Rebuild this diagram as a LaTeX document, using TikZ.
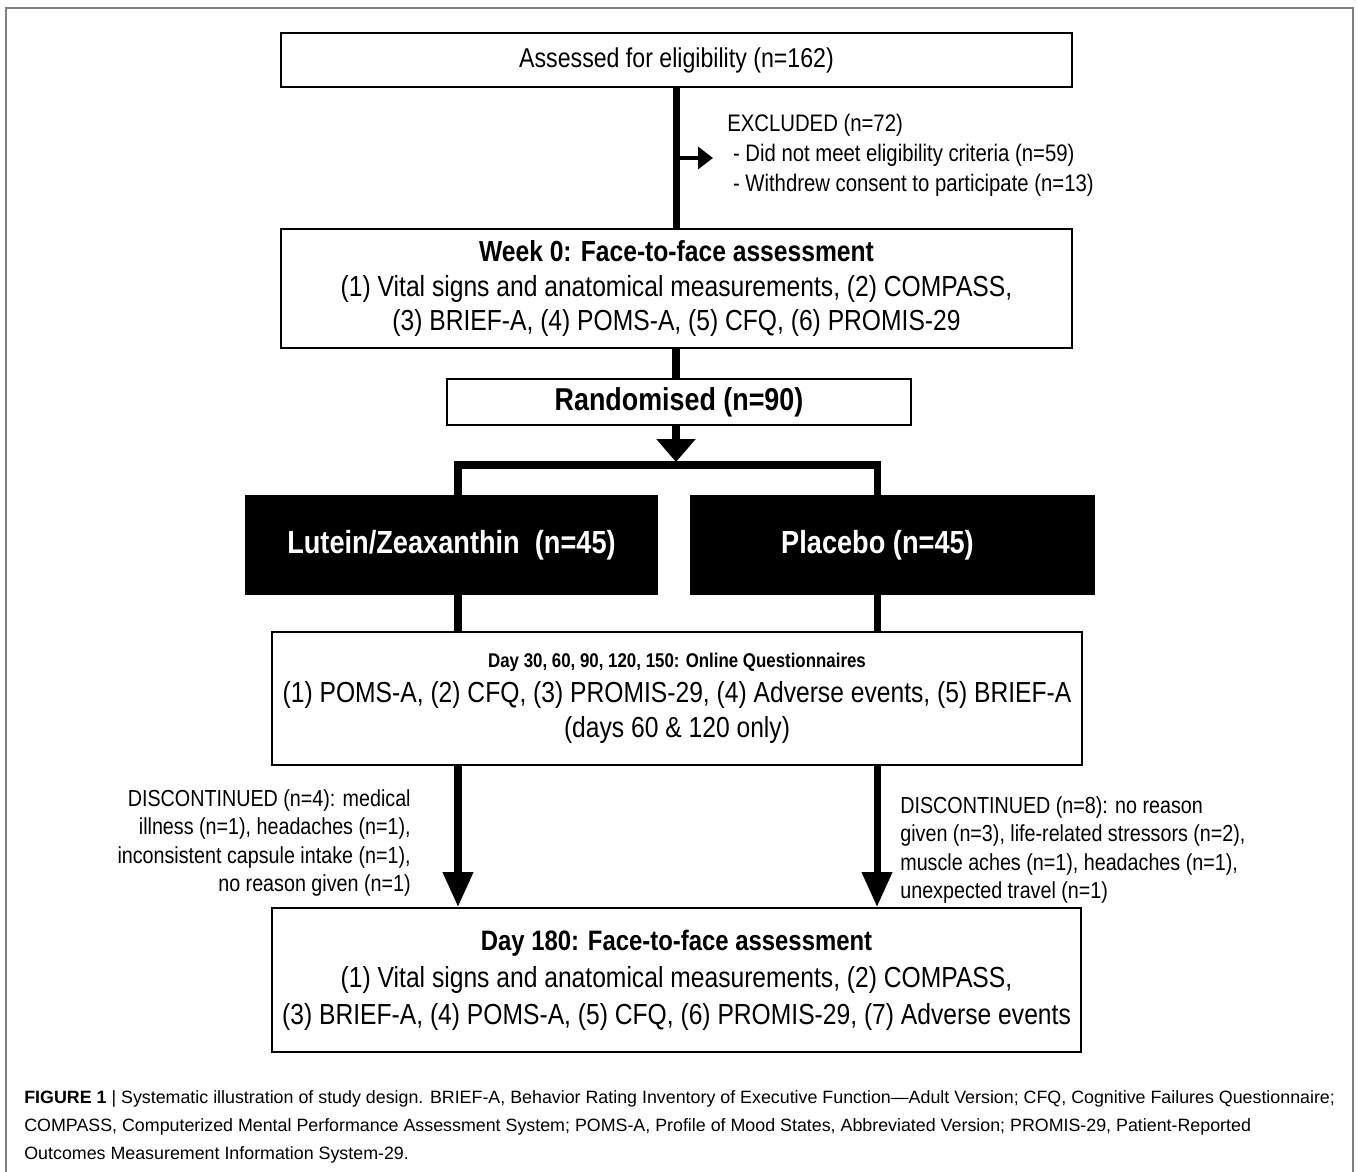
\documentclass[tikz,border=0pt]{standalone}
\usepackage{fontspec}
\setmainfont{Liberation Sans}
\newfontfamily\narrowfont{Liberation Sans}[FakeStretch=0.85]
\usetikzlibrary{arrows.meta,positioning,calc}

\begin{document}
\begin{tikzpicture}[x=0.02cm, y=-0.02cm,
		box/.style={draw=black, line width=1.1pt, fill=white, align=center, inner sep=0pt,
			font=\narrowfont\fontsize{16.5}{19.9}\selectfont},
		armbox/.style={fill=black, text=white, inner sep=0pt, minimum height=2cm,
			font=\narrowfont\bfseries\fontsize{18.2}{21}\selectfont},
		note/.style={inner sep=0pt, font=\narrowfont\fontsize{13.2}{16}\selectfont},
		trunk/.style={line width=4pt},
		bigtip/.style={-{Triangle[length=0.7cm,width=0.58cm]}},
		splittip/.style={-{Triangle[length=0.46cm,width=0.76cm]}}]
		
		% page and outer frame
		\useasboundingbox (0,0) rectangle (1358,1172);
		\draw[gray, line width=1.1pt] (6,1172) -- (6,8) -- (1353,8) -- (1353,1172);
		
		% boxes of the flow
		\node[box, minimum width=15.82cm, minimum height=1.08cm,
			font=\narrowfont\fontsize{15.5}{19}\selectfont] (elig) at (676.5,60) {Assessed for eligibility (n=162)};
		\node[box, minimum width=15.82cm, minimum height=2.38cm] (wk0) at (676.5,288.5)
			{{\bfseries Week 0: Face-to-face assessment}\\
			 (1) Vital signs and anatomical measurements, (2) COMPASS,\\
			 (3) BRIEF-A, (4) POMS-A, (5) CFQ, (6) PROMIS-29};
		\node[box, minimum width=9.28cm, minimum height=0.92cm,
			font=\narrowfont\bfseries\fontsize{18}{21}\selectfont] (rand) at (679,402) {Randomised (n=90)};
		
		\node[armbox, minimum width=8.26cm] (lut) at (451.5,545) {Lutein/Zeaxanthin\ \ (n=45)};
		\node[armbox, minimum width=8.1cm] (plac) at (892.5,545) {Placebo (n=45)\hspace*{0.6cm}};
		
		\node[box, minimum width=16.2cm, minimum height=2.66cm] (d30) at (677,698.5)
			{{\bfseries\fontsize{11.3}{19.9}\selectfont Day 30, 60, 90, 120, 150: Online Questionnaires}\\
			 (1) POMS-A, (2) CFQ, (3) PROMIS-29, (4) Adverse events, (5) BRIEF-A\\
			 (days 60 \& 120 only)};
		\node[box, minimum width=16.18cm, minimum height=2.88cm,
			font=\narrowfont\fontsize{16.5}{21}\selectfont] (d180) at (676.5,980)
			{{\bfseries\fontsize{16}{21}\selectfont Day 180: Face-to-face assessment}\\
			 (1) Vital signs and anatomical measurements, (2) COMPASS,\\
			 (3) BRIEF-A, (4) POMS-A, (5) CFQ, (6) PROMIS-29, (7) Adverse events};
		
		% side notes
		\node[note, anchor=west, align=left, font=\narrowfont\fontsize{13.6}{17}\selectfont] (excl) at (727,155)
			{EXCLUDED (n=72)\\
			 \ - Did not meet eligibility criteria (n=59)\\
			 \ - Withdrew consent to participate (n=13)};
		\node[note, anchor=east, align=right] (discL) at (411,843)
			{DISCONTINUED (n=4): medical\\
			 illness (n=1), headaches (n=1),\\
			 inconsistent capsule intake (n=1),\\
			 no reason given (n=1)};
		\node[note, anchor=west, align=left] (discR) at (900,850)
			{DISCONTINUED (n=8): no reason\\
			 given (n=3), life-related stressors (n=2),\\
			 muscle aches (n=1), headaches (n=1),\\
			 unexpected travel (n=1)};
		
		% split points
		\coordinate (exend) at (713,158);
		\coordinate (split) at (676,462);
		\coordinate (lbr) at (458,465);
		\coordinate (rbr) at (877,465);
		
		% connectors
		\draw[trunk] (elig.south) -- (wk0.north);
		\draw[line width=1.9pt, -{Triangle[length=0.3cm,width=0.44cm]}] (elig.south |- exend) -- (exend);
		\draw[trunk] (wk0.south -| split) -- (rand.north -| split);
		\draw[trunk, splittip] (rand.south -| split) -- (split);
		\draw[trunk] (lut.north -| lbr) -- (lbr) -- (rbr) -- (plac.north -| rbr);
		\draw[trunk] (lut.south -| lbr) -- (d30.north -| lbr);
		\draw[trunk] (plac.south -| rbr) -- (d30.north -| rbr);
		\draw[trunk, bigtip] (d30.south -| lbr) -- (d180.north -| lbr);
		\draw[trunk, bigtip] (d30.south -| rbr) -- (d180.north -| rbr);
		
		% caption
		\node[anchor=west, align=left, inner sep=0pt, font=\fontsize{10.15}{15.9}\selectfont] (cap) at (24,1127)
			{{\bfseries FIGURE 1} | Systematic illustration of study design. BRIEF-A, Behavior Rating Inventory of Executive Function—Adult Version; CFQ, Cognitive Failures Questionnaire;\\
			 COMPASS, Computerized Mental Performance Assessment System; POMS-A, Profile of Mood States, Abbreviated Version; PROMIS-29, Patient-Reported\\
			 Outcomes Measurement Information System-29.};
		
	\end{tikzpicture}
\end{document}
